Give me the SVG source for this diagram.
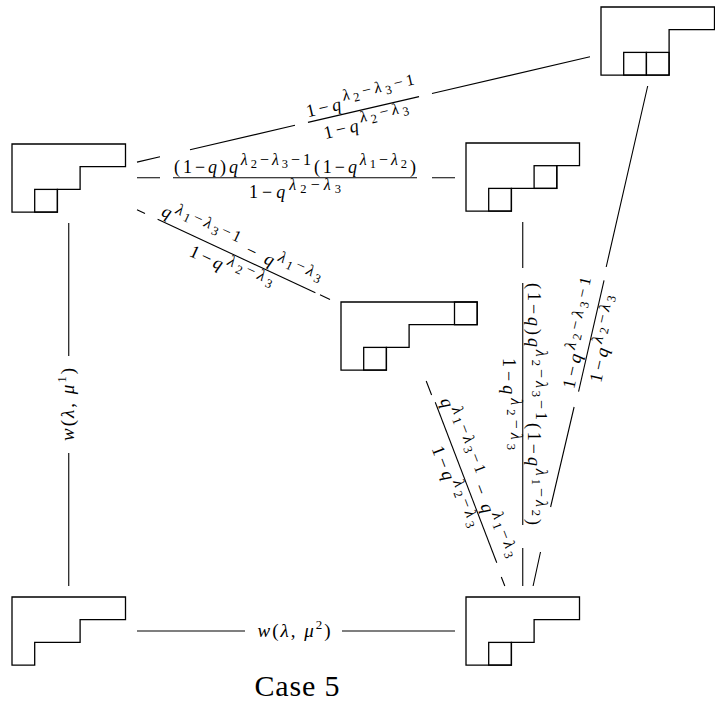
<svg xmlns="http://www.w3.org/2000/svg" width="715" height="709" viewBox="0 0 715 709">
<style>
.yd{fill:none;stroke:#000;stroke-width:1.3;stroke-linejoin:miter}
.e{fill:none;stroke:#000;stroke-width:1.1}
text{font-family:"Liberation Serif","DejaVu Serif",serif;fill:#000}
.i{font-style:italic}
.s{font-size:16px}
.ss{font-size:12.5px}
</style>
<rect width="715" height="709" fill="#fff"/>
<g id="n_tr"><path class="yd" d="M601 7H714.5V29.7H669.1V75.1H601Z"/><rect class="yd" x="623.7" y="52.4" width="22.7" height="22.7"/><rect class="yd" x="646.4" y="52.4" width="22.7" height="22.7"/></g>
<g id="n_l1"><path class="yd" d="M12 144H125.5V166.7H80.1V189.4H57.4V212.1H12Z"/><rect class="yd" x="34.7" y="189.4" width="22.7" height="22.7"/></g>
<g id="n_m1"><path class="yd" d="M466 143H579.5V165.7H556.8V188.4H511.4V211.1H466Z"/><rect class="yd" x="534.1" y="165.7" width="22.7" height="22.7"/><rect class="yd" x="488.7" y="188.4" width="22.7" height="22.7"/></g>
<g id="n_m2"><path class="yd" d="M341 302H477.2V324.7H409.1V347.4H386.4V370.1H341Z"/><rect class="yd" x="454.5" y="302" width="22.7" height="22.7"/><rect class="yd" x="363.7" y="347.4" width="22.7" height="22.7"/></g>
<g id="n_bl"><path class="yd" d="M12 597H125.5V619.7H80.1V642.4H34.7V665.1H12Z"/></g>
<g id="n_br"><path class="yd" d="M466 597H579.5V619.7H534.1V642.4H511.4V665.1H466Z"/><rect class="yd" x="488.7" y="642.4" width="22.7" height="22.7"/></g>
<g id="connectors">
<g id="e_l1_tr"><path class="e" d="M137 162.1L160 156.7M190 149.7L295 125.3M432 93.5L590 56.8"/>
<g transform="translate(363.5 109.5) rotate(-13.08)"><line class="e" x1="-57" y1="0" x2="57" y2="0"/>
<text x="0" y="-5" text-anchor="middle" font-size="18" textLength="112" lengthAdjust="spacing">1−<tspan class="i">q</tspan><tspan class="i s" dy="-8">λ</tspan><tspan class="ss" dy="3.5">2</tspan><tspan class="s" dy="-3.5">−</tspan><tspan class="i s">λ</tspan><tspan class="ss" dy="3.5">3</tspan><tspan class="s" dy="-3.5">−1</tspan></text>
<text x="0" y="20" text-anchor="middle" font-size="18" textLength="88" lengthAdjust="spacing">1−<tspan class="i">q</tspan><tspan class="i s" dy="-8">λ</tspan><tspan class="ss" dy="3.5">2</tspan><tspan class="s" dy="-3.5">−</tspan><tspan class="i s">λ</tspan><tspan class="ss" dy="3.5">3</tspan></text></g></g>
<g id="e_l1_m1"><path class="e" d="M137 177.8H160M432 177.8H455"/>
<g transform="translate(295 177.8)"><line class="e" x1="-122" y1="0" x2="122" y2="0"/>
<text x="0" y="-5" text-anchor="middle" font-size="18" textLength="242" lengthAdjust="spacing">(1−<tspan class="i">q</tspan>)<tspan class="i">q</tspan><tspan class="i s" dy="-8">λ</tspan><tspan class="ss" dy="3.5">2</tspan><tspan class="s" dy="-3.5">−</tspan><tspan class="i s">λ</tspan><tspan class="ss" dy="3.5">3</tspan><tspan class="s" dy="-3.5">−1</tspan><tspan dy="8">(1−</tspan><tspan class="i">q</tspan><tspan class="i s" dy="-8">λ</tspan><tspan class="ss" dy="3.5">1</tspan><tspan class="s" dy="-3.5">−</tspan><tspan class="i s">λ</tspan><tspan class="ss" dy="3.5">2</tspan><tspan dy="4.5">)</tspan></text>
<text x="0" y="20" text-anchor="middle" font-size="18" textLength="92" lengthAdjust="spacing">1−<tspan class="i">q</tspan><tspan class="i s" dy="-8">λ</tspan><tspan class="ss" dy="3.5">2</tspan><tspan class="s" dy="-3.5">−</tspan><tspan class="i s">λ</tspan><tspan class="ss" dy="3.5">3</tspan></text></g></g>
<g id="e_l1_m2"><path class="e" d="M137 209.7L145 213.4M320 294.8L330 299.5"/>
<g transform="translate(236.5 256) rotate(24.93)"><line class="e" x1="-87" y1="0" x2="87" y2="0"/>
<text x="0" y="-5" text-anchor="middle" font-size="18" textLength="172" lengthAdjust="spacing"><tspan class="i">q</tspan><tspan class="i s" dy="-8">λ</tspan><tspan class="ss" dy="3.5">1</tspan><tspan class="s" dy="-3.5">−</tspan><tspan class="i s">λ</tspan><tspan class="ss" dy="3.5">3</tspan><tspan class="s" dy="-3.5">−1</tspan><tspan dy="8"> − </tspan><tspan class="i">q</tspan><tspan class="i s" dy="-8">λ</tspan><tspan class="ss" dy="3.5">1</tspan><tspan class="s" dy="-3.5">−</tspan><tspan class="i s">λ</tspan><tspan class="ss" dy="3.5">3</tspan></text>
<text x="0" y="20" text-anchor="middle" font-size="18" textLength="88" lengthAdjust="spacing">1−<tspan class="i">q</tspan><tspan class="i s" dy="-8">λ</tspan><tspan class="ss" dy="3.5">2</tspan><tspan class="s" dy="-3.5">−</tspan><tspan class="i s">λ</tspan><tspan class="ss" dy="3.5">3</tspan></text></g></g>
<g id="e_m2_br"><path class="e" d="M426.2 381L431.6 395M501.3 577L504.8 586"/>
<g transform="translate(466 482.5) rotate(69.04)"><line class="e" x1="-86" y1="0" x2="86" y2="0"/>
<text x="0" y="-5" text-anchor="middle" font-size="18" textLength="172" lengthAdjust="spacing"><tspan class="i">q</tspan><tspan class="i s" dy="-8">λ</tspan><tspan class="ss" dy="3.5">1</tspan><tspan class="s" dy="-3.5">−</tspan><tspan class="i s">λ</tspan><tspan class="ss" dy="3.5">3</tspan><tspan class="s" dy="-3.5">−1</tspan><tspan dy="8"> − </tspan><tspan class="i">q</tspan><tspan class="i s" dy="-8">λ</tspan><tspan class="ss" dy="3.5">1</tspan><tspan class="s" dy="-3.5">−</tspan><tspan class="i s">λ</tspan><tspan class="ss" dy="3.5">3</tspan></text>
<text x="0" y="20" text-anchor="middle" font-size="18" textLength="88" lengthAdjust="spacing">1−<tspan class="i">q</tspan><tspan class="i s" dy="-8">λ</tspan><tspan class="ss" dy="3.5">2</tspan><tspan class="s" dy="-3.5">−</tspan><tspan class="i s">λ</tspan><tspan class="ss" dy="3.5">3</tspan></text></g></g>
<g id="e_m1_br"><path class="e" d="M522.75 222V268M522.75 548V586"/>
<g transform="translate(522.75 404) rotate(90)"><line class="e" x1="-121" y1="0" x2="121" y2="0"/>
<text x="0" y="-5" text-anchor="middle" font-size="18" textLength="242" lengthAdjust="spacing">(1−<tspan class="i">q</tspan>)<tspan class="i">q</tspan><tspan class="i s" dy="-8">λ</tspan><tspan class="ss" dy="3.5">2</tspan><tspan class="s" dy="-3.5">−</tspan><tspan class="i s">λ</tspan><tspan class="ss" dy="3.5">3</tspan><tspan class="s" dy="-3.5">−1</tspan><tspan dy="8">(1−</tspan><tspan class="i">q</tspan><tspan class="i s" dy="-8">λ</tspan><tspan class="ss" dy="3.5">1</tspan><tspan class="s" dy="-3.5">−</tspan><tspan class="i s">λ</tspan><tspan class="ss" dy="3.5">2</tspan><tspan dy="4.5">)</tspan></text>
<text x="0" y="20" text-anchor="middle" font-size="18" textLength="92" lengthAdjust="spacing">1−<tspan class="i">q</tspan><tspan class="i s" dy="-8">λ</tspan><tspan class="ss" dy="3.5">2</tspan><tspan class="s" dy="-3.5">−</tspan><tspan class="i s">λ</tspan><tspan class="ss" dy="3.5">3</tspan></text></g></g>
<g id="e_tr_br"><path class="e" d="M647.7 86L606.2 267M574.1 407L550.6 507M540.5 552L533.1 586"/>
<g transform="translate(591.3 336) rotate(-77.09)"><line class="e" x1="-57" y1="0" x2="57" y2="0"/>
<text x="0" y="-5" text-anchor="middle" font-size="18" textLength="112" lengthAdjust="spacing">1−<tspan class="i">q</tspan><tspan class="i s" dy="-8">λ</tspan><tspan class="ss" dy="3.5">2</tspan><tspan class="s" dy="-3.5">−</tspan><tspan class="i s">λ</tspan><tspan class="ss" dy="3.5">3</tspan><tspan class="s" dy="-3.5">−1</tspan></text>
<text x="0" y="20" text-anchor="middle" font-size="18" textLength="88" lengthAdjust="spacing">1−<tspan class="i">q</tspan><tspan class="i s" dy="-8">λ</tspan><tspan class="ss" dy="3.5">2</tspan><tspan class="s" dy="-3.5">−</tspan><tspan class="i s">λ</tspan><tspan class="ss" dy="3.5">3</tspan></text></g></g>
<g id="e_l1_bl"><path class="e" d="M68.75 223V356M68.75 453V586"/>
<text transform="translate(74 404.5) rotate(-90)" x="0" y="0" text-anchor="middle" font-size="19" textLength="73" lengthAdjust="spacing"><tspan class="i">w</tspan>(<tspan class="i">λ</tspan>, <tspan class="i">μ</tspan><tspan font-size="13" dy="-8">1</tspan><tspan dy="8">)</tspan></text></g>
<g id="e_bl_br"><path class="e" d="M137 631H245M342 631H455"/>
<text x="294" y="636.5" text-anchor="middle" font-size="19" textLength="73" lengthAdjust="spacing"><tspan class="i">w</tspan>(<tspan class="i">λ</tspan>, <tspan class="i">μ</tspan><tspan font-size="13" dy="-8">2</tspan><tspan dy="8">)</tspan></text></g>
</g>
<text x="297" y="696" text-anchor="middle" font-size="30" textLength="85" lengthAdjust="spacing">Case 5</text>
</svg>
